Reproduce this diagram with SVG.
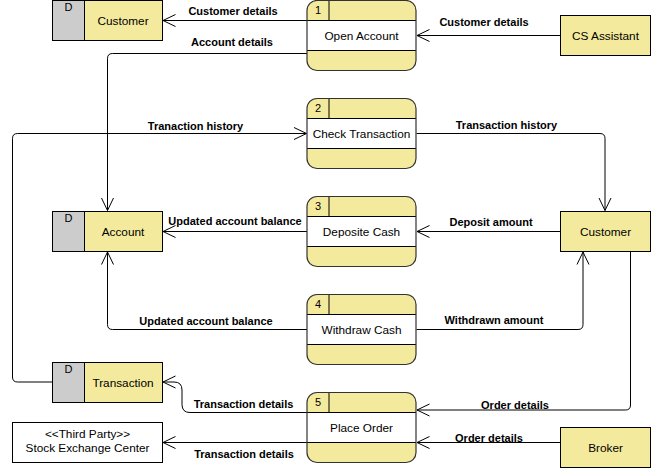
<svg xmlns="http://www.w3.org/2000/svg" width="653" height="470" viewBox="0 0 653 470">
<defs>
<style>
.yl{fill:#f4ea9d}
.gr{fill:#cccccc}
.ol{fill:none;stroke:#000;stroke-width:1}
.po{fill:none;stroke:#333;stroke-width:1.2}
.ln{fill:none;stroke:#000;stroke-width:1}
.t{font-family:"Liberation Sans",Arial,sans-serif;font-size:11.8px;fill:#000;text-anchor:middle}
.s{font-family:"Liberation Sans",Arial,sans-serif;font-size:11px;fill:#000;text-anchor:middle}
.lb{font-family:"Liberation Sans",Arial,sans-serif;font-size:11px;font-weight:bold;fill:#000;text-anchor:middle}
.c{fill:none;stroke:#000;stroke-width:1;marker-end:url(#arr)}
</style>
<marker id="arr" markerUnits="userSpaceOnUse" markerWidth="16" markerHeight="16" viewBox="-14 -8 16 16" refX="0" refY="0" orient="auto">
<path d="M-12.5,-6 L0,0 L-12.5,6" fill="none" stroke="#000" stroke-width="1"/>
</marker>
</defs>

<g id="connectors">
<path class="c" d="M307,20.5 H163"/>
<path class="c" d="M560.5,35.5 H417"/>
<path class="c" d="M307,53.5 H112.5 Q107.5,53.5 107.5,58.5 V210.5"/>
<path class="c" d="M52.5,382 H17.5 Q12.5,382 12.5,377 V138.5 Q12.5,133.5 17.5,133.5 H306.5"/>
<path class="c" d="M416.5,133.5 H600 Q605,133.5 605,138.5 V210.5"/>
<path class="c" d="M307,231.5 H163"/>
<path class="c" d="M560.5,231.5 H417"/>
<path class="c" d="M307,329.5 H112.5 Q107.5,329.5 107.5,324.5 V252"/>
<path class="c" d="M416.5,329.5 H578 Q583,329.5 583,324.5 V252"/>
<path class="c" d="M630.5,251.5 V405 Q630.5,410 625.5,410 H417"/>
<path class="c" d="M307,412.5 H190 Q182,412.5 182,404.5 V390 Q182,382 174,382 H163"/>
<path class="c" d="M307,442.5 H163"/>
<path class="c" d="M560.5,442.5 H417"/>
<text class="lb" x="233" y="15">Customer details</text>
<text class="lb" x="484" y="25.5">Customer details</text>
<text class="lb" x="232" y="46">Account details</text>
<text class="lb" x="195.5" y="130">Tranaction history</text>
<text class="lb" x="506.5" y="129">Transaction history</text>
<text class="lb" x="235" y="225">Updated account balance</text>
<text class="lb" x="491" y="225.5">Deposit amount</text>
<text class="lb" x="206" y="325">Updated account balance</text>
<text class="lb" x="494" y="324">Withdrawn amount</text>
<text class="lb" x="243.5" y="408">Transaction details</text>
<text class="lb" x="515" y="408.5">Order details</text>
<text class="lb" x="244" y="458">Transaction details</text>
<text class="lb" x="489" y="441.5">Order details</text>
</g>

<g id="p1">
<rect class="yl" x="307" y="0.5" width="109" height="70" rx="10"/>
<rect x="307" y="20.5" width="109" height="30" fill="#fff"/>
<path class="ln" d="M307,20.5 H416 M307,50.5 H416 M329,0.5 V20.5" stroke="#333"/>
<rect class="po" x="307" y="0.5" width="109" height="70" rx="10"/>
<text class="s" x="318" y="14">1</text>
<text class="t" x="361.5" y="39.5">Open Account</text>
</g>
<g id="p2">
<rect class="yl" x="307" y="98.5" width="109" height="70" rx="10"/>
<rect x="307" y="118.5" width="109" height="30" fill="#fff"/>
<path class="ln" d="M307,118.5 H416 M307,148.5 H416 M329,98.5 V118.5" stroke="#333"/>
<rect class="po" x="307" y="98.5" width="109" height="70" rx="10"/>
<text class="s" x="318" y="112">2</text>
<text class="t" x="361.5" y="137.5">Check Transaction</text>
</g>
<g id="p3">
<rect class="yl" x="307" y="196.5" width="109" height="70" rx="10"/>
<rect x="307" y="216.5" width="109" height="30" fill="#fff"/>
<path class="ln" d="M307,216.5 H416 M307,246.5 H416 M329,196.5 V216.5" stroke="#333"/>
<rect class="po" x="307" y="196.5" width="109" height="70" rx="10"/>
<text class="s" x="318" y="210">3</text>
<text class="t" x="361.5" y="235.5">Deposite Cash</text>
</g>
<g id="p4">
<rect class="yl" x="307" y="294.5" width="109" height="70" rx="10"/>
<rect x="307" y="314.5" width="109" height="30" fill="#fff"/>
<path class="ln" d="M307,314.5 H416 M307,344.5 H416 M329,294.5 V314.5" stroke="#333"/>
<rect class="po" x="307" y="294.5" width="109" height="70" rx="10"/>
<text class="s" x="318" y="308">4</text>
<text class="t" x="361.5" y="333.5">Withdraw Cash</text>
</g>
<g id="p5">
<rect class="yl" x="307" y="392.5" width="109" height="70" rx="10"/>
<rect x="307" y="412.5" width="109" height="30" fill="#fff"/>
<path class="ln" d="M307,412.5 H416 M307,442.5 H416 M329,392.5 V412.5" stroke="#333"/>
<rect class="po" x="307" y="392.5" width="109" height="70" rx="10"/>
<text class="s" x="318" y="406">5</text>
<text class="t" x="361.5" y="431.5">Place Order</text>
</g>

<g id="ds-customer">
<rect class="gr" x="52.5" y="0.5" width="32" height="40"/>
<rect class="yl" x="84.5" y="0.5" width="78" height="40"/>
<rect class="ol" x="52.5" y="0.5" width="110" height="40"/>
<path class="ln" d="M84.5,0.5 V40.5"/>
<text class="s" x="68.5" y="10.5">D</text>
<text class="t" x="123" y="24.5">Customer</text>
</g>
<g id="ds-account">
<rect class="gr" x="52.5" y="211.5" width="32" height="40"/>
<rect class="yl" x="84.5" y="211.5" width="78" height="40"/>
<rect class="ol" x="52.5" y="211.5" width="110" height="40"/>
<path class="ln" d="M84.5,211.5 V251.5"/>
<text class="s" x="68.5" y="222">D</text>
<text class="t" x="123" y="235.5">Account</text>
</g>
<g id="ds-transaction">
<rect class="gr" x="52.5" y="362.5" width="32" height="40"/>
<rect class="yl" x="84.5" y="362.5" width="78" height="40"/>
<rect class="ol" x="52.5" y="362.5" width="110" height="40"/>
<path class="ln" d="M84.5,362.5 V402.5"/>
<text class="s" x="68.5" y="373">D</text>
<text class="t" x="123" y="386.5">Transaction</text>
</g>
<g id="stock-exchange">
<rect x="12.5" y="422.5" width="150" height="40" fill="#fff" stroke="#000"/>
<text class="t" x="87.5" y="438">&lt;&lt;Third Party&gt;&gt;</text>
<text class="t" x="87.5" y="452">Stock Exchange Center</text>
</g>
<g id="cs-assistant">
<rect class="yl" x="560.5" y="15.5" width="90" height="40" stroke="#000"/>
<text class="t" x="605.5" y="39.5">CS Assistant</text>
</g>
<g id="customer">
<rect class="yl" x="560.5" y="211.5" width="90" height="40" stroke="#000"/>
<text class="t" x="605.5" y="235.5">Customer</text>
</g>
<g id="broker">
<rect class="yl" x="560.5" y="427.5" width="90" height="40" stroke="#000"/>
<text class="t" x="605.5" y="451.5">Broker</text>
</g>
</svg>
